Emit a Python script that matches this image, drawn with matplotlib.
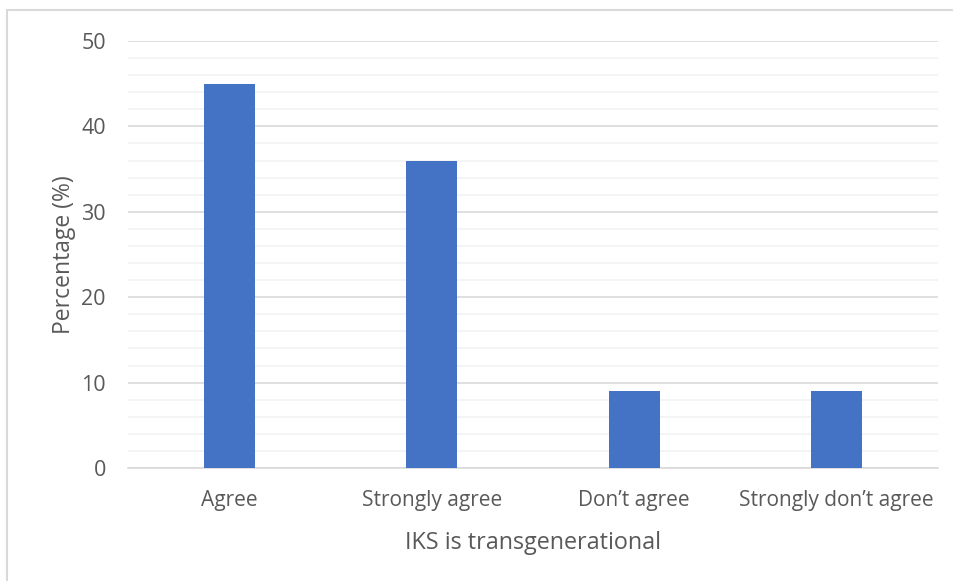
import matplotlib
matplotlib.use("Agg")
import matplotlib.pyplot as plt
from matplotlib.patches import Rectangle
import numpy as np

categories = ["Agree", "Strongly agree", "Don\u2019t agree", "Strongly don\u2019t agree"]
percentages = [45, 36, 9, 9]
y_ticks = [0, 10, 20, 30, 40, 50]

plt.rcParams['font.family'] = ['Open Sans', 'DejaVu Sans']
text_color = "#595959"

fig = plt.figure(figsize=(9.54, 5.81), dpi=100)
ax = fig.add_axes([128 / 954, 113 / 581, 810 / 954, 427 / 581])

x = np.arange(len(categories))
ax.bar(x, percentages, width=0.25, color="#4472C4", zorder=3)

ax.set_xlim(-0.5, len(categories) - 0.5)
ax.set_ylim(0, 50)
ax.set_yticks(y_ticks)
ax.set_yticks(np.arange(0, 51, 2), minor=True)
ax.grid(axis="y", which="major", color="#d9d9d9", linewidth=1.2, zorder=0)
ax.grid(axis="y", which="minor", color="#f2f2f2", linewidth=1.2, zorder=0)
ax.set_axisbelow(True)

for s in ["top", "right", "left"]:
    ax.spines[s].set_visible(False)
ax.spines["bottom"].set_color("#d9d9d9")
ax.spines["bottom"].set_linewidth(1.2)

ax.set_xticks(x)
ax.set_xticklabels(categories)
ax.tick_params(axis="x", length=0, labelsize=15, colors=text_color, pad=16)
ax.tick_params(axis="y", which="both", length=0, labelsize=15.5, colors=text_color, pad=16)

ax.set_xlabel("IKS is transgenerational", fontsize=16.8, color=text_color, labelpad=14)
ax.set_ylabel("Percentage (%)", fontsize=16.5, color=text_color, labelpad=4)

# chart frame
fig.patches.append(Rectangle((7 / 954, -0.05), 1.2, 1.05 - 10 / 581,
                             transform=fig.transFigure, fill=False,
                             edgecolor="#d9d9d9", linewidth=1.5))

fig.savefig("out.png", dpi=100)
